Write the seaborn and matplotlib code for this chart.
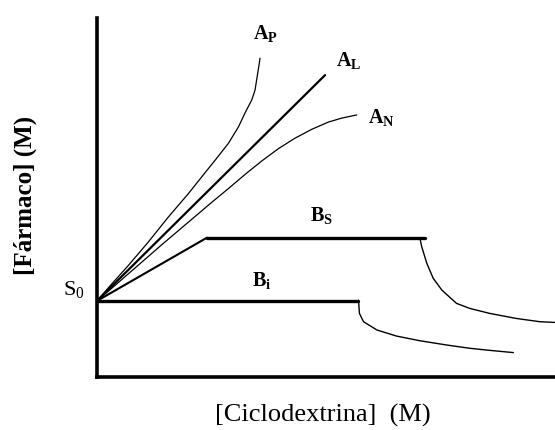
import numpy as np
import pandas as pd
import matplotlib
matplotlib.use('Agg')
import matplotlib.pyplot as plt
import seaborn as sns

# Diagrama de solubilidad de fases (unidades arbitrarias, 0-100)
s0 = 21.2

ap_x = [0, 3.2, 6.8, 11.2, 15.6, 19.9, 22.9, 25.8, 28.7, 30.9, 32.3, 33.8, 34.5, 35.2, 35.6]
ap_y = [s0, 25.9, 31.0, 37.6, 44.6, 51.0, 55.8, 60.4, 65.1, 69.7, 73.5, 77.2, 79.9, 85.5, 88.8]

al_x = [0, 49.8]
al_y = [s0, 84.1]

an_x = [0, 3.2, 6.8, 10.5, 14.1, 17.8, 21.4, 25.0, 28.7, 32.3, 36.0, 39.6, 43.2, 46.9, 50.5, 53.4, 56.7]
an_y = [s0, 24.7, 28.7, 32.8, 36.8, 40.8, 44.7, 48.6, 52.5, 56.4, 60.2, 63.6, 66.5, 69.0, 71.0, 72.1, 73.0]

bs_x = [0, 24.0, 71.6]
bs_y = [s0, 38.8, 38.8]
bs_caida_x = [70.5, 70.9, 72.0, 73.4, 75.3, 78.5, 81.4, 85.8, 91.6, 96.7, 100]
bs_caida_y = [38.7, 36.3, 31.7, 27.5, 24.2, 20.5, 19.1, 17.7, 16.3, 15.4, 15.2]

bi_x = [0, 57.0]
bi_y = [s0, s0]
bi_caida_x = [57.1, 57.3, 58.2, 61.1, 65.4, 70.5, 76.4, 81.4, 85.1, 90.9]
bi_caida_y = [21.4, 17.7, 15.4, 13.1, 11.4, 10.1, 8.9, 8.0, 7.5, 6.8]

etiquetas = [r'$\mathbf{A_P}$', r'$\mathbf{A_L}$', r'$\mathbf{A_N}$', r'$\mathbf{B_S}$', r'$\mathbf{B_i}$']
etiq_x = [36.7, 55.0, 62.2, 49.1, 36.0]
etiq_y = [95.8, 88.3, 72.4, 45.1, 27.0]

sns.set_theme(style='white')
plt.rcParams['font.family'] = ['Liberation Serif', 'DejaVu Serif']
plt.rcParams['mathtext.fontset'] = 'custom'
plt.rcParams['mathtext.rm'] = 'Liberation Serif'
plt.rcParams['mathtext.it'] = 'Liberation Serif'
plt.rcParams['mathtext.bf'] = 'Liberation Serif:bold'

fig = plt.figure(figsize=(5.55, 4.3), dpi=100)
ax = fig.add_axes([97 / 555, 53 / 430, 458 / 555, 359 / 430])

curvas = [
    (ap_x, ap_y, 0.9),
    (al_x, al_y, 1.6),
    (an_x, an_y, 0.9),
    (bs_x[:2], bs_y[:2], 1.5),
    (bs_x[1:], bs_y[1:], 2.4),
    (bs_caida_x, bs_caida_y, 1.0),
    (bi_x, bi_y, 2.4),
    (bi_caida_x, bi_caida_y, 1.0),
]
for cx, cy, lw in curvas:
    sns.lineplot(x=cx, y=cy, sort=False, estimator=None, color='black',
                 linewidth=lw, ax=ax, clip_on=False)

for txt, tx, ty in zip(etiquetas, etiq_x, etiq_y):
    ax.text(tx, ty, txt, ha='center', va='center', fontsize=14.5, color='black')
ax.text(-5.0, 24.5, r'$\mathrm{S_0}$', ha='center', va='center', fontsize=16,
        color='black', clip_on=False)

ax.set_xlim(0, 100)
ax.set_ylim(0, 100)
ax.set_xticks([])
ax.set_yticks([])
sns.despine(ax=ax)
for s in ['left', 'bottom']:
    ax.spines[s].set_linewidth(2.6)
    ax.spines[s].set_color('black')

fig.text(323 / 555, 1 - 415 / 430, '[Ciclodextrina]  (M)', ha='center', va='center',
         fontsize=19, color='black')
fig.text(25 / 555, 1 - 195 / 430, '[Fármaco] (M)', ha='center', va='center',
         rotation=90, fontsize=18, fontweight='bold', color='black')

fig.savefig('out.png', dpi=100, facecolor='white')
